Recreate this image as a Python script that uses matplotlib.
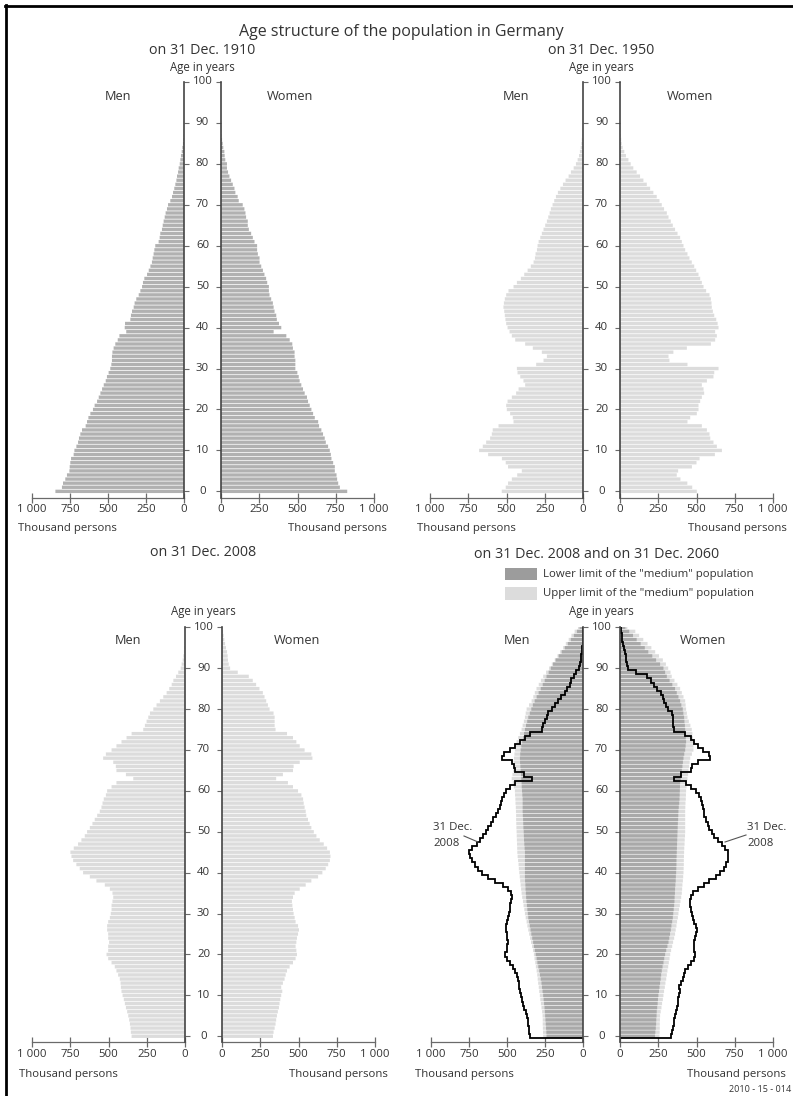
import numpy as np
import matplotlib
matplotlib.use("Agg")
import matplotlib.pyplot as plt
from matplotlib import transforms
from matplotlib.patches import Rectangle
from matplotlib.lines import Line2D

plt.rcParams['font.family'] = ['Open Sans', 'DejaVu Sans']

TEXT = '#333333'
W, H = 793, 1096

AGES = np.arange(0, 101)
X_TICKS = [0, 250, 500, 750, 1000]
X_TICK_LABELS = ['0', '250', '500', '750', '1 000']
AGE_TICKS = list(range(0, 101, 10))

# Population by single year of age, thousand persons
men_1910 = [846, 803, 796, 781, 770, 754, 752, 748, 743, 726,
            721, 708, 697, 691, 682, 671, 647, 638, 629, 616,
            599, 588, 572, 561, 550, 539, 528, 515, 507, 496,
            485, 478, 474, 474, 471, 463, 452, 436, 425, 380,
            390, 388, 353, 349, 342, 331, 325, 314, 298, 287,
            276, 270, 261, 243, 232, 221, 211, 206, 200, 195,
            189, 167, 160, 156, 145, 140, 134, 127, 121, 112,
            105, 90, 79, 72, 64, 57, 50, 46, 39, 35,
            28, 24, 20, 15, 11, 7, 5, 3, 2, 1,
            1]
women_1910 = [825, 777, 766, 759, 755, 744, 744, 733, 722, 718,
              711, 700, 685, 678, 667, 656, 641, 635, 613, 602,
              591, 580, 569, 562, 547, 536, 525, 514, 508, 499,
              486, 486, 486, 481, 481, 470, 466, 449, 427, 344,
              394, 379, 365, 361, 350, 344, 339, 328, 317, 313,
              313, 302, 295, 284, 274, 263, 252, 252, 241, 236,
              236, 219, 208, 197, 182, 175, 175, 164, 160, 153,
              142, 116, 109, 94, 88, 77, 66, 55, 46, 39,
              39, 28, 24, 22, 15, 11, 7, 4, 3, 2,
              1]

men_1950 = [531, 505, 490, 465, 430, 400, 490, 505, 530, 620,
            679, 655, 633, 607, 596, 590, 552, 454, 459, 476,
            498, 502, 493, 465, 437, 421, 378, 389, 410, 428,
            432, 306, 258, 236, 269, 328, 378, 443, 465, 480,
            493, 502, 507, 511, 515, 520, 517, 511, 502, 487,
            454, 432, 406, 384, 362, 341, 323, 314, 310, 301,
            297, 290, 279, 269, 258, 247, 236, 227, 218, 210,
            199, 188, 177, 164, 148, 131, 114, 94, 79, 61,
            46, 35, 26, 20, 15, 11, 8, 5, 3, 2,
            1]
women_1950 = [502, 472, 440, 395, 371, 380, 470, 500, 520, 620,
              666, 633, 611, 590, 585, 568, 535, 441, 459, 502,
              513, 513, 524, 535, 550, 546, 535, 568, 611, 616,
              644, 441, 323, 317, 349, 437, 594, 622, 633, 622,
              644, 638, 629, 616, 607, 600, 598, 594, 585, 563,
              546, 535, 524, 513, 498, 485, 469, 454, 441, 426,
              415, 404, 393, 376, 360, 345, 332, 317, 306, 288,
              273, 258, 240, 218, 197, 175, 153, 131, 109, 87,
              70, 55, 39, 28, 17, 11, 8, 5, 3, 2,
              1]

men_2008 = [349, 354, 356, 360, 365, 371, 378, 386, 393, 400,
            408, 415, 419, 421, 426, 437, 448, 459, 480, 502,
            513, 502, 502, 496, 502, 502, 509, 509, 502, 491,
            485, 480, 480, 474, 469, 474, 491, 524, 579, 622,
            666, 688, 710, 731, 742, 749, 727, 699, 677, 655,
            640, 622, 605, 590, 574, 557, 546, 539, 531, 517,
            509, 480, 448, 338, 386, 448, 452, 469, 535, 517,
            480, 448, 415, 382, 349, 273, 262, 251, 240, 229,
            207, 186, 164, 142, 120, 103, 87, 76, 59, 44,
            28, 22, 15, 11, 7, 5, 3, 2, 1, 1,
            1]
women_2008 = [333, 337, 344, 350, 354, 359, 365, 372, 376, 381,
              387, 394, 387, 398, 409, 416, 425, 442, 464, 481,
              490, 486, 481, 486, 490, 497, 503, 497, 481, 475,
              468, 464, 460, 457, 464, 475, 508, 547, 584, 628,
              656, 678, 694, 705, 709, 705, 687, 665, 639, 617,
              600, 584, 573, 562, 551, 547, 540, 534, 530, 519,
              497, 464, 431, 354, 398, 464, 468, 508, 591, 584,
              540, 508, 486, 464, 425, 350, 344, 344, 344, 337,
              311, 300, 289, 278, 267, 245, 223, 201, 175, 103,
              53, 44, 39, 37, 33, 26, 20, 15, 11, 7,
              4]

# 2060 projection, "medium" population variant
men_2060_lower = [240, 241, 243, 245, 247, 249, 251, 253, 256, 259,
                  262, 266, 270, 273, 278, 283, 288, 294, 300, 305,
                  311, 317, 323, 328, 334, 340, 345, 350, 355, 360,
                  363, 366, 369, 372, 374, 376, 378, 379, 381, 382,
                  382, 382, 382, 382, 382, 382, 384, 386, 388, 389,
                  390, 392, 393, 394, 396, 397, 397, 397, 397, 399,
                  401, 403, 404, 406, 408, 410, 412, 414, 415, 413,
                  410, 406, 400, 394, 388, 382, 375, 367, 360, 350,
                  340, 330, 318, 305, 292, 278, 265, 252, 240, 226,
                  212, 197, 180, 160, 140, 120, 100, 80, 60, 40,
                  22]
men_2060_upper = [262, 263, 264, 265, 265, 266, 269, 273, 277, 281,
                  284, 288, 291, 295, 298, 301, 305, 310, 314, 319,
                  323, 329, 335, 342, 348, 354, 360, 366, 371, 377,
                  382, 386, 391, 395, 400, 404, 407, 410, 413, 416,
                  419, 422, 424, 427, 430, 432, 433, 434, 435, 436,
                  437, 438, 439, 440, 440, 441, 442, 444, 445, 447,
                  448, 455, 462, 469, 464, 459, 457, 456, 454, 451,
                  448, 443, 437, 426, 415, 404, 397, 389, 382, 377,
                  371, 355, 338, 327, 317, 306, 291, 277, 262, 243,
                  223, 205, 186, 168, 150, 131, 113, 94, 76, 55,
                  33]
women_2060_lower = [229, 231, 234, 236, 237, 239, 240, 243, 246, 248,
                    251, 255, 258, 262, 266, 269, 273, 278, 284, 289,
                    295, 302, 310, 317, 322, 327, 332, 336, 341, 345,
                    348, 351, 354, 356, 357, 359, 360, 362, 364, 365,
                    367, 368, 369, 369, 370, 371, 372, 373, 374, 375,
                    376, 377, 378, 380, 381, 382, 384, 387, 389, 390,
                    391, 392, 393, 397, 400, 404, 408, 411, 415, 420,
                    426, 429, 432, 430, 428, 426, 424, 421, 419, 414,
                    410, 401, 393, 382, 371, 360, 342, 324, 306, 295,
                    284, 262, 236, 211, 185, 162, 135, 109, 85, 60,
                    35]
women_2060_upper = [258, 259, 260, 260, 261, 262, 266, 271, 275, 280,
                    284, 288, 293, 297, 302, 306, 310, 315, 319, 324,
                    328, 334, 341, 347, 354, 360, 364, 369, 373, 378,
                    382, 386, 391, 395, 400, 404, 406, 408, 411, 413,
                    415, 416, 417, 417, 418, 419, 420, 422, 423, 425,
                    426, 426, 426, 426, 426, 426, 427, 428, 430, 431,
                    432, 435, 438, 441, 445, 448, 452, 455, 459, 470,
                    480, 480, 480, 476, 473, 469, 460, 450, 441, 437,
                    432, 429, 426, 415, 404, 393, 375, 356, 338, 330,
                    315, 300, 280, 255, 230, 205, 180, 152, 125, 100,
                    48]

DARK = '#a9a9a9'
MID = '#b1b1b1'
LIGHT = '#dcdcdc'
AXIS_DARK = '#444444'
AXIS_GREY = '#6a6a6a'
BAR_H = 0.82

fig = plt.figure(figsize=(W / 100, H / 100), dpi=100)
fig.patch.set_facecolor('white')


def px_axes(x0, x1, ytop, ybot):
    return fig.add_axes([x0 / W, 1 - ybot / H, (x1 - x0) / W, (ybot - ytop) / H])


def ftext(x, y, s, **kw):
    kw.setdefault('color', TEXT)
    return fig.text(x / W, 1 - y / H, s, **kw)


def style_side(ax, side):
    ax.set_ylim(-1.5, 100)
    if side == 'men':
        ax.set_xlim(1000, 0)
        ax.spines['left'].set_visible(False)
        inner = 'right'
        ax.yaxis.tick_right()
    else:
        ax.set_xlim(0, 1000)
        ax.spines['right'].set_visible(False)
        inner = 'left'
        ax.yaxis.tick_left()
    ax.spines['top'].set_visible(False)
    ax.spines[inner].set_color(AXIS_DARK)
    ax.spines[inner].set_linewidth(1.2)
    ax.spines[inner].set_zorder(5)
    ax.spines['bottom'].set_color(AXIS_GREY)
    ax.spines['bottom'].set_linewidth(0.9)
    ax.set_yticks(AGE_TICKS)
    ax.set_yticklabels([])
    ax.tick_params(axis='y', direction='out', length=3.5, width=0.8, color=AXIS_GREY)
    ax.set_xticks(X_TICKS)
    ax.set_xticklabels(X_TICK_LABELS)
    ax.tick_params(axis='x', direction='inout', length=7, width=0.9, color=AXIS_GREY,
                   labelsize=8.2, labelcolor=TEXT, pad=1.5)
    ax.patch.set_alpha(0)


def bars(ax, values, color, zorder=2):
    cont = ax.barh(AGES[:len(values)], values, height=BAR_H, color=color,
                   linewidth=0, zorder=zorder)
    for p in cont.patches:
        p.set_snap(False)


def outline(ax, values):
    vals = np.asarray(values, dtype=float)
    ys = np.repeat(AGES[:len(vals)], 2) + np.tile([-0.5, 0.5], len(vals))
    xs = np.repeat(vals, 2)
    xs = np.concatenate([[0], xs])
    ys = np.concatenate([[-0.5], ys])
    ax.plot(xs, ys, color='black', lw=1.3, zorder=4, solid_joinstyle='miter')


def panel(mx0, mx1, wx0, wx1, ytop, ybot):
    am = px_axes(mx0, mx1, ytop, ybot)
    aw = px_axes(wx0, wx1, ytop, ybot)
    style_side(am, 'men')
    style_side(aw, 'women')
    gap_x = (mx1 + wx0) / 2 / W
    tr = transforms.blended_transform_factory(fig.transFigure, am.transData)
    for a in AGE_TICKS:
        am.text(gap_x, a, str(a), transform=tr, ha='center', va='center',
                fontsize=8.2, color=TEXT, clip_on=False)
    return am, aw


# Page frame
fig.add_artist(Line2D([5 / W, 1], [1 - 6 / H, 1 - 6 / H], color='black', lw=2.0,
                      transform=fig.transFigure))
fig.add_artist(Line2D([6 / W, 6 / W], [0, 1 - 5 / H], color='black', lw=2.0,
                      transform=fig.transFigure))

ftext(401, 32, 'Age structure of the population in Germany', fontsize=11.5,
      ha='center', va='center')

SUB = 10.3
AGE_LBL = 8.3
SEX = 9.2
UNIT = 8.2

# 1910
TOP_Y0, TOP_Y1 = 82, 497.5
am, aw = panel(32, 184, 221, 374, TOP_Y0, TOP_Y1)
bars(am, men_1910, MID)
bars(aw, women_1910, MID)
ftext(202.5, 50, 'on 31 Dec. 1910', fontsize=SUB, ha='center', va='center')
ftext(202.5, 67, 'Age in years', fontsize=AGE_LBL, ha='center', va='center')
ftext(118, 96, 'Men', fontsize=SEX, ha='center', va='center')
ftext(290, 96, 'Women', fontsize=SEX, ha='center', va='center')
ftext(18, 528, 'Thousand persons', fontsize=UNIT, ha='left', va='center')
ftext(387, 528, 'Thousand persons', fontsize=UNIT, ha='right', va='center')

# 1950
am, aw = panel(430, 583, 620, 773, TOP_Y0, TOP_Y1)
bars(am, men_1950, LIGHT)
bars(aw, women_1950, LIGHT)
ftext(601.5, 50, 'on 31 Dec. 1950', fontsize=SUB, ha='center', va='center')
ftext(601.5, 67, 'Age in years', fontsize=AGE_LBL, ha='center', va='center')
ftext(516, 96, 'Men', fontsize=SEX, ha='center', va='center')
ftext(690, 96, 'Women', fontsize=SEX, ha='center', va='center')
ftext(417, 528, 'Thousand persons', fontsize=UNIT, ha='left', va='center')
ftext(787, 528, 'Thousand persons', fontsize=UNIT, ha='right', va='center')

# 2008
BOT_Y0, BOT_Y1 = 627.3, 1042.4
am, aw = panel(32, 185, 222, 375, BOT_Y0, BOT_Y1)
bars(am, men_2008, LIGHT)
bars(aw, women_2008, LIGHT)
ftext(203.5, 553, 'on 31 Dec. 2008', fontsize=SUB, ha='center', va='center')
ftext(203.5, 612, 'Age in years', fontsize=AGE_LBL, ha='center', va='center')
ftext(128, 641, 'Men', fontsize=SEX, ha='center', va='center')
ftext(297, 641, 'Women', fontsize=SEX, ha='center', va='center')
ftext(19, 1075, 'Thousand persons', fontsize=UNIT, ha='left', va='center')
ftext(388, 1075, 'Thousand persons', fontsize=UNIT, ha='right', va='center')

# 2008 and 2060
am, aw = panel(431, 583, 620, 773, BOT_Y0, BOT_Y1)
bars(am, men_2060_upper, LIGHT, zorder=2)
bars(am, men_2060_lower, DARK, zorder=3)
bars(aw, women_2060_upper, LIGHT, zorder=2)
bars(aw, women_2060_lower, DARK, zorder=3)
outline(am, men_2008)
outline(aw, women_2008)
ftext(597, 554, 'on 31 Dec. 2008 and on 31 Dec. 2060', fontsize=SUB,
      ha='center', va='center')
ftext(601.5, 612, 'Age in years', fontsize=AGE_LBL, ha='center', va='center')
ftext(517, 641, 'Men', fontsize=SEX, ha='center', va='center')
ftext(703, 641, 'Women', fontsize=SEX, ha='center', va='center')
ftext(415, 1075, 'Thousand persons', fontsize=UNIT, ha='left', va='center')
ftext(786, 1075, 'Thousand persons', fontsize=UNIT, ha='right', va='center')

# Legend
for (yt, yb, col, lab) in [(568, 580, '#9c9c9c', 'Lower limit of the "medium" population'),
                           (587, 600, LIGHT, 'Upper limit of the "medium" population')]:
    fig.add_artist(Rectangle((505 / W, 1 - yb / H), 32 / W, (yb - yt) / H,
                             transform=fig.transFigure, facecolor=col, edgecolor='none'))
    ftext(543, (yt + yb) / 2, lab, fontsize=8.2, ha='left', va='center')

# 31 Dec. 2008 callouts
ftext(433, 828, '31 Dec.', fontsize=8.2, ha='left', va='center')
ftext(433, 844, '2008', fontsize=8.2, ha='left', va='center')
fig.add_artist(Line2D([464 / W, 478 / W], [1 - 836 / H, 1 - 842 / H], color='#555555',
                      lw=0.8, transform=fig.transFigure))
ftext(747, 828, '31 Dec.', fontsize=8.2, ha='left', va='center')
ftext(747, 844, '2008', fontsize=8.2, ha='left', va='center')
fig.add_artist(Line2D([725 / W, 746 / W], [1 - 842 / H, 1 - 835 / H], color='#555555',
                      lw=0.8, transform=fig.transFigure))

ftext(791, 1089, '2010 - 15 - 014', fontsize=6.5, ha='right', va='center')

fig.savefig('out.png', dpi=100, facecolor='white')
